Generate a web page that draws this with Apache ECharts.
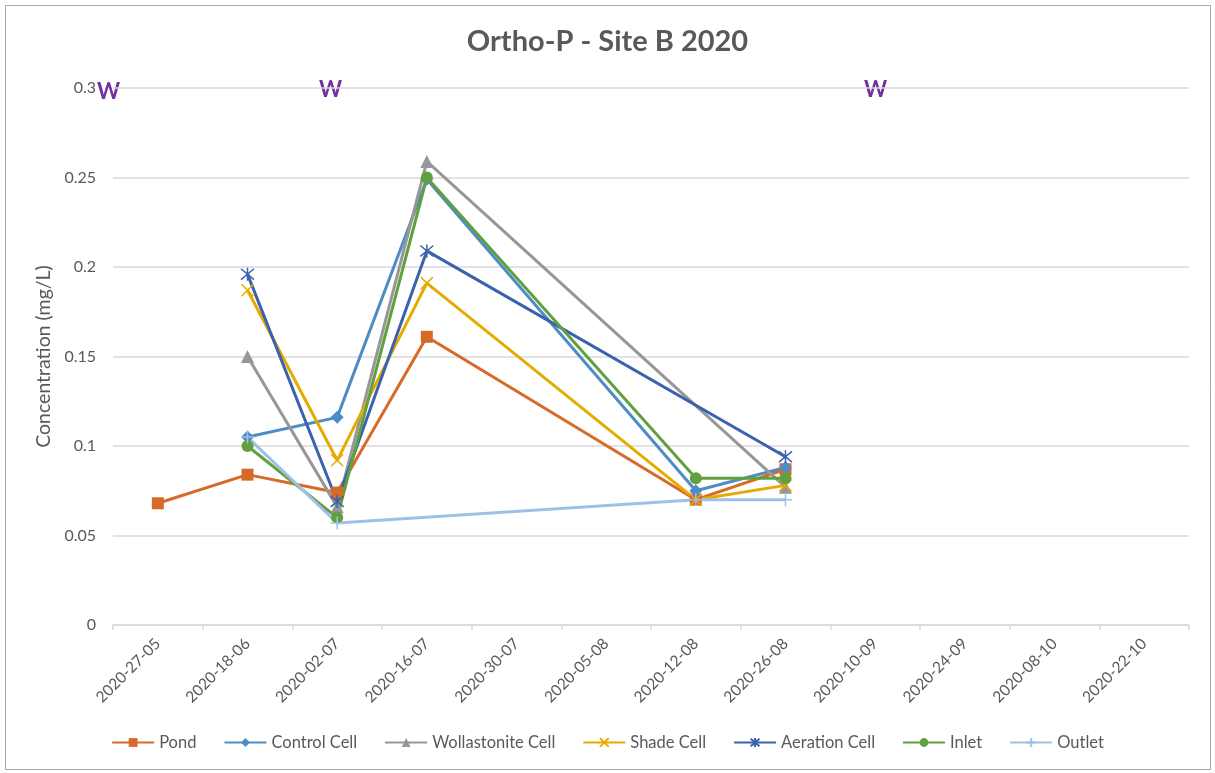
<!DOCTYPE html>
<html>
<head>
<meta charset="utf-8">
<title>Ortho-P - Site B 2020</title>
<script src="https://cdn.jsdelivr.net/npm/echarts@6/dist/echarts.min.js"></script>
<style>
  html, body { margin: 0; padding: 0; background: #fff; }
  #OrthoChart { width: 1215px; height: 773px; }
</style>
</head>
<body>
<div id="OrthoChart"></div>
<script>
// sampling dates, as labelled on the original sheet
var dates = ["2020-27-05", "2020-18-06", "2020-02-07", "2020-16-07", "2020-30-07", "2020-05-08",
             "2020-12-08", "2020-26-08", "2020-10-09", "2020-24-09", "2020-08-10", "2020-22-10"];

// ortho-P concentration, mg/L (null = not sampled)
var pond         = [0.068, 0.084, 0.074, 0.161, null, null, 0.070, 0.087];
var controlCell  = [null, 0.105, 0.116, 0.249, null, null, 0.075, 0.088];
var wollastonite = [null, 0.150, 0.066, 0.259, null, null, null, 0.077];
var shadeCell    = [null, 0.187, 0.092, 0.191, null, null, 0.070, 0.078];
var aeration     = [null, 0.196, 0.069, 0.209, null, null, null, 0.094];
var inlet        = [null, 0.100, 0.060, 0.250, null, null, 0.082, 0.082];
var outlet       = [null, 0.105, 0.057, null, null, null, 0.070, 0.070];

var yTicks = [0, 0.05, 0.1, 0.15, 0.2, 0.25, 0.3];

var FONT = "Lato";
var TXT = "#595959";

var X_PATH = "path://M0,0L10,10M10,0L0,10";
var STAR_PATH = "path://M0,0L10,10M10,0L0,10M5,-1L5,11";
var PLUS_PATH = "path://M5,0L5,10M0,5L10,5";

function lineSeries(name, data, color, symbol, size, stroked) {
  return {
    name: name,
    type: "line",
    data: data,
    connectNulls: true,
    symbol: symbol,
    symbolSize: size,
    showAllSymbol: true,
    lineStyle: { color: color, width: 3 },
    itemStyle: stroked
      ? { color: "rgba(0,0,0,0)", borderColor: color, borderWidth: 1.5 }
      : { color: color, borderColor: color, borderWidth: 0 },
    emphasis: { disabled: true }
  };
}

var chartDom = document.getElementById("OrthoChart");
var myChart = echarts.init(chartDom, null, { renderer: "canvas" });

var option = {
  animation: false,
  backgroundColor: "#fff",
  textStyle: { fontFamily: FONT },
  title: {
    text: "Ortho-P - Site B 2020",
    left: "center",
    top: 22,
    textStyle: { fontFamily: FONT, fontSize: 29, fontWeight: "bold", color: TXT }
  },
  grid: { left: 113, right: 26, top: 88, bottom: 148 },
  legend: {
    bottom: 17,
    left: "center",
    itemWidth: 42,
    itemHeight: 11,
    itemGap: 27,
    textStyle: { fontFamily: FONT, fontSize: 16.5, color: TXT },
    data: ["Pond", "Control Cell", "Wollastonite Cell", "Shade Cell", "Aeration Cell", "Inlet", "Outlet"]
  },
  xAxis: {
    type: "category",
    data: dates,
    boundaryGap: true,
    axisLine: { lineStyle: { color: "#D9D9D9", width: 1.5 } },
    axisTick: { show: true, length: 5, lineStyle: { color: "#D9D9D9", width: 1.5 } },
    axisLabel: { rotate: 45, margin: 16, fontFamily: FONT, fontSize: 15.5, color: TXT, interval: 0 },
    splitLine: { show: false }
  },
  yAxis: {
    type: "value",
    min: yTicks[0],
    max: yTicks[yTicks.length - 1],
    interval: 0.05,
    name: "Concentration (mg/L)",
    nameLocation: "middle",
    nameGap: 56,
    nameTextStyle: { fontFamily: FONT, fontSize: 19.5, color: TXT },
    axisLine: { show: false },
    axisTick: { show: false },
    axisLabel: { margin: 17, fontFamily: FONT, fontSize: 16, color: TXT },
    splitLine: { lineStyle: { color: "#D9D9D9", width: 1.5 } }
  },
  series: [
    lineSeries("Pond", pond, "#D86A29", "rect", 12, false),
    lineSeries("Control Cell", controlCell, "#4E8CC6", "diamond", 13, false),
    lineSeries("Wollastonite Cell", wollastonite, "#979797", "triangle", 13, false),
    lineSeries("Shade Cell", shadeCell, "#E6AA00", X_PATH, 12, true),
    lineSeries("Aeration Cell", aeration, "#3A62AE", STAR_PATH, 13, true),
    lineSeries("Inlet", inlet, "#61A03E", "circle", 12, false),
    lineSeries("Outlet", outlet, "#9DC1E6", PLUS_PATH, 13, true)
  ],
  graphic: [
    {
      type: "rect",
      shape: { x: 5.5, y: 5.5, width: 1205, height: 764 },
      style: { fill: "none", stroke: "#A6A6A6", lineWidth: 1 },
      silent: true
    },
    // hand-placed "W" notes from the original sheet
    { type: "text", left: 97, top: 81, style: { text: "W", fill: "#7030A0", font: "bold 22px " + FONT } },
    { type: "text", left: 319, top: 79, style: { text: "W", fill: "#7030A0", font: "bold 22px " + FONT } },
    { type: "text", left: 864, top: 79, style: { text: "W", fill: "#7030A0", font: "bold 22px " + FONT } }
  ]
};

option && myChart.setOption(option);
</script>
</body>
</html>
